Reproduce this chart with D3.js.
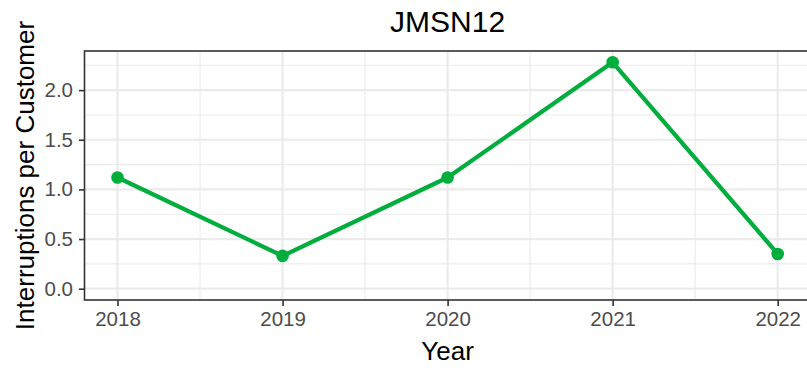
<!DOCTYPE html>
<html>
<head>
<meta charset="utf-8">
<script src="https://cdn.jsdelivr.net/npm/d3@7"></script>
<style>
  html, body { margin: 0; padding: 0; background: #fff; }
  svg { display: block; font-family: "Liberation Sans", Arial, sans-serif; }
</style>
</head>
<body>
<svg id="chart" width="807" height="368"></svg>
<script>
// Interruptions per customer by year, feeder JMSN12
const years = [2018, 2019, 2020, 2021, 2022];
const interruptions = [1.12, 0.33, 1.12, 2.28, 0.35];
const yTicks = [0, 0.5, 1, 1.5, 2];
const yMinor = [0.25, 0.75, 1.25, 1.75, 2.25];
const xMinor = [2018.5, 2019.5, 2020.5, 2021.5];
const chartTitle = "JMSN12";
const xTitle = "Year";
const yTitle = "Interruptions per Customer";

const svg = d3.select("#chart");
const panel = { left: 84.5, right: 810.7, top: 51, bottom: 300 };

// ggplot-style 5% expansion, with 0 kept in the y range
const xExt = d3.extent(years);
const xPad = (xExt[1] - xExt[0]) * 0.05;
const x = d3.scaleLinear().domain([xExt[0] - xPad, xExt[1] + xPad]).range([panel.left, panel.right]);
const yMax = d3.max(interruptions);
const yPad = yMax * 0.05;
const y = d3.scaleLinear().domain([-yPad, yMax + yPad]).range([panel.bottom, panel.top]);

const grid = svg.append("g");
// minor grid
grid.selectAll(".ymin").data(yMinor).join("line")
  .attr("x1", panel.left).attr("x2", panel.right)
  .attr("y1", d => y(d)).attr("y2", d => y(d))
  .attr("stroke", "#ebebeb").attr("stroke-width", 1.1);
grid.selectAll(".xmin").data(xMinor).join("line")
  .attr("y1", panel.top).attr("y2", panel.bottom)
  .attr("x1", d => x(d)).attr("x2", d => x(d))
  .attr("stroke", "#ebebeb").attr("stroke-width", 1.1);
// major grid
grid.selectAll(".ymaj").data(yTicks).join("line")
  .attr("x1", panel.left).attr("x2", panel.right)
  .attr("y1", d => y(d)).attr("y2", d => y(d))
  .attr("stroke", "#ebebeb").attr("stroke-width", 2.2);
grid.selectAll(".xmaj").data(years).join("line")
  .attr("y1", panel.top).attr("y2", panel.bottom)
  .attr("x1", d => x(d)).attr("x2", d => x(d))
  .attr("stroke", "#ebebeb").attr("stroke-width", 2.2);

// series
const line = d3.line().x((d, i) => x(years[i])).y(d => y(d));
svg.append("path").datum(interruptions)
  .attr("d", line)
  .attr("fill", "none")
  .attr("stroke", "#00ad3d")
  .attr("stroke-width", 4.2)
  .attr("stroke-linejoin", "round");
svg.selectAll(".pt").data(interruptions).join("circle")
  .attr("cx", (d, i) => x(years[i]))
  .attr("cy", d => y(d))
  .attr("r", 6.3)
  .attr("fill", "#00ad3d");

// panel border
svg.append("rect")
  .attr("x", panel.left).attr("y", panel.top)
  .attr("width", panel.right - panel.left).attr("height", panel.bottom - panel.top)
  .attr("fill", "none").attr("stroke", "#333").attr("stroke-width", 1.6);

// axes
const yAxis = d3.axisLeft(y).tickValues(yTicks).tickFormat(d3.format(".1f")).tickSize(5.5).tickPadding(6);
const gy = svg.append("g").attr("transform", `translate(${panel.left},0)`).call(yAxis);
const xAxis = d3.axisBottom(x).tickValues(years).tickFormat(d3.format("d")).tickSize(6).tickPadding(5);
const gx = svg.append("g").attr("transform", `translate(0,${panel.bottom})`).call(xAxis);
[gy, gx].forEach(g => {
  g.select(".domain").remove();
  g.selectAll(".tick line").attr("stroke", "#333").attr("stroke-width", 1.6);
  g.selectAll(".tick text").attr("fill", "#4d4d4d").style("font-size", "20.5px")
    .style("font-family", "'Liberation Sans', Arial, sans-serif");
});

// titles
const cx = (panel.left + panel.right) / 2;
svg.append("text").attr("x", cx).attr("y", 32)
  .attr("text-anchor", "middle").style("font-size", "30px").attr("fill", "#000")
  .text(chartTitle);
svg.append("text").attr("x", cx).attr("y", 360)
  .attr("text-anchor", "middle").style("font-size", "26px").attr("fill", "#000")
  .text(xTitle);
svg.append("text")
  .attr("transform", `translate(34,${(panel.top + panel.bottom) / 2}) rotate(-90)`)
  .attr("text-anchor", "middle").style("font-size", "26px").attr("fill", "#000")
  .text(yTitle);
</script>
</body>
</html>
